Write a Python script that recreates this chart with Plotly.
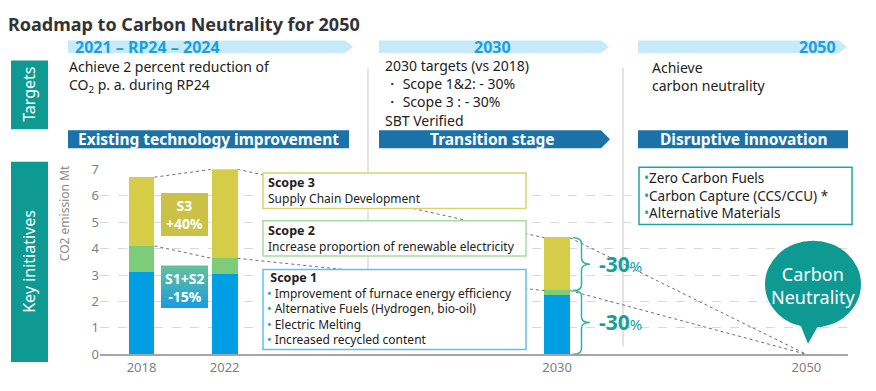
import plotly.graph_objects as go

# ---------------- data ----------------
years = ["2018", "2022", "2030", "2050"]
scope1 = [3.10, 3.03, 2.25, 0.0]
scope2 = [1.00, 0.60, 0.16, 0.0]
scope3 = [2.60, 3.37, 2.00, 0.0]
categories = ["2018", "2022", " ", "  ", "   ", "2030", "    ", "     ", "2050"]
y_ticks = [0, 1, 2, 3, 4, 5, 6, 7]

W, H = 876, 391
FONT = "Noto Sans"
BLUE, GREEN, YELLOW = "#009FE3", "#7DCC7A", "#D5CC48"
TEAL = "#0E9A93"
HDR_BLUE = "#1AA0E2"
DARK_BLUE = "#1A72A8"
LIGHT_BLUE = "#C6EAFA"
BAR_W = 0.31


def X(px):
    return px / W


def Y(py):
    return 1 - py / H


def path(points):
    s = "M " + " L ".join(f"{X(a):.5f},{Y(b):.5f}" for a, b in points)
    return s + " Z"


fig = go.Figure()
for name, vals, col in [("Scope 1", scope1, BLUE), ("Scope 2", scope2, GREEN), ("Scope 3", scope3, YELLOW)]:
    fig.add_trace(go.Bar(x=years, y=vals, name=name, marker=dict(color=col, line=dict(width=0)),
                         width=BAR_W, showlegend=False, hoverinfo="skip"))

shapes = []
ann = []


def txt(x, y, text, size=14, color="#222", anchor="left", yanchor="middle", bold=False, angle=0,
        family=FONT):
    if bold:
        text = f"<b>{text}</b>"
    ann.append(dict(x=X(x), y=Y(y), xref="paper", yref="paper", text=text, showarrow=False,
                    xanchor=anchor, yanchor=yanchor, textangle=angle, align=anchor if anchor != "center" else "center",
                    font=dict(size=size, color=color, family=family)))


# separator lines
for sx in [368, 623]:
    shapes.append(dict(type="line", xref="paper", yref="paper", x0=X(sx), x1=X(sx), y0=Y(62), y1=Y(354),
                       line=dict(color="#C8C8C8", width=1), layer="below"))

# connectors between bars
pos = [categories.index(y) for y in years]
mid = [a + b for a, b in zip(scope1, scope2)]
tot = [a + b + c for a, b, c in zip(scope1, scope2, scope3)]
for i in range(len(years) - 1):
    j = i + 1
    xe = pos[j] if tot[j] == 0 else pos[j] - BAR_W / 2
    for series in (tot, mid):
        shapes.append(dict(type="line", xref="x", yref="y", x0=pos[i] + BAR_W / 2, y0=series[i],
                           x1=xe, y1=series[j], line=dict(color="#6E6E6E", width=1, dash="dot")))

# header chevrons (light)
for x0, x1 in [(68, 353), (379, 609), (638, 847)]:
    shapes.append(dict(type="path", xref="paper", yref="paper", fillcolor=LIGHT_BLUE, line=dict(width=0),
                       path=path([(x0, 33), (x1 - 8, 33), (x1, 39.5), (x1 - 8, 46), (x0, 46)])))
# dark bars
shapes.append(dict(type="path", xref="paper", yref="paper", fillcolor=DARK_BLUE, line=dict(width=0),
                   path=path([(68, 127), (349, 127), (349, 146), (68, 146)])))
shapes.append(dict(type="path", xref="paper", yref="paper", fillcolor=DARK_BLUE, line=dict(width=0),
                   path=path([(379, 127), (601, 127), (610, 136.5), (601, 146), (379, 146)])))
shapes.append(dict(type="path", xref="paper", yref="paper", fillcolor=DARK_BLUE, line=dict(width=0),
                   path=path([(638, 127), (848, 127), (848, 146), (638, 146)])))

# side teal labels
for y0, y1 in [(54, 126), (160, 370)]:
    shapes.append(dict(type="rect", xref="paper", yref="paper", x0=X(11), x1=X(48), y0=Y(y1), y1=Y(y0),
                       fillcolor=TEAL, line=dict(width=0)))

# scope boxes
for y0, y1, col in [(172, 209, "#D9D36C"), (222, 259, "#A9DC9F"), (273, 357, "#5CC3EE")]:
    shapes.append(dict(type="rect", xref="paper", yref="paper", x0=X(263), x1=X(526), y0=Y(y1), y1=Y(y0),
                       fillcolor="white", line=dict(color=col, width=1.5)))
# disruptive box
shapes.append(dict(type="rect", xref="paper", yref="paper", x0=X(639), x1=X(852), y0=Y(226), y1=Y(166),
                   fillcolor="white", line=dict(color="#1BA8A0", width=1.5)))

# S3 box
shapes.append(dict(type="rect", xref="paper", yref="paper", x0=X(161), x1=X(208), y0=Y(238), y1=Y(193),
                   fillcolor="#CBC147", line=dict(width=0)))
# S1+S2 gradient box
n = 12
c0, c1 = (98, 192, 158), (28, 158, 222)
for k in range(n):
    t = k / (n - 1)
    col = "rgb(%d,%d,%d)" % tuple(round(c0[m] + (c1[m] - c0[m]) * t) for m in range(3))
    ya = 269 + (313 - 269) * k / n
    yb = 269 + (313 - 269) * (k + 1) / n
    shapes.append(dict(type="rect", xref="paper", yref="paper", x0=X(161), x1=X(208), y0=Y(yb + 0.3),
                       y1=Y(ya), fillcolor=col, line=dict(width=0)))


# braces at 2030
def brace(y0, y1, xl=X(573), w=X(17), d=0.22):
    xm = xl + w / 2
    xr = xl + w
    ym = (y0 + y1) / 2
    return (f"M {xl},{y1} Q {xm},{y1} {xm},{y1 - d} L {xm},{ym + d} Q {xm},{ym} {xr},{ym} "
            f"Q {xm},{ym} {xm},{ym - d} L {xm},{y0 + d} Q {xm},{y0} {xl},{y0}")


i30 = years.index("2030")
for y0, y1 in [(mid[i30], tot[i30]), (0, mid[i30])]:
    shapes.append(dict(type="path", xref="paper", yref="y", path=brace(y0, y1),
                       line=dict(color="#2BB3A8", width=1.5)))
    ann.append(dict(x=X(597), y=(y0 + y1) / 2, xref="paper", yref="y", showarrow=False,
                    xanchor="left", yanchor="middle",
                    text="<b>-30</b><span style='font-size:15px'>%</span>",
                    font=dict(size=21, color="#14A39A", family=FONT)))

# carbon neutrality bubble
shapes.append(dict(type="path", xref="paper", yref="paper", fillcolor=TEAL, line=dict(width=0),
                   path=path([(798, 325), (822, 325), (808, 351)])))
shapes.append(dict(type="circle", xref="paper", yref="paper", x0=X(765), x1=X(861), y0=Y(334), y1=Y(243),
                   fillcolor=TEAL, line=dict(width=0)))

# ---------------- text ----------------
txt(6, 16, "Roadmap to Carbon Neutrality for 2050", size=18, color="#333333", bold=True)
txt(73, 39.5, "2021 – RP24 – 2024", size=16, color=HDR_BLUE, bold=True)
txt(493, 39.5, "2030", size=16, color=HDR_BLUE, bold=True, anchor="center")
txt(838, 39.5, "2050", size=16, color=HDR_BLUE, bold=True, anchor="right")

txt(208, 136.5, "Existing technology improvement", size=15.5, color="white", bold=True, anchor="center")
txt(493, 136.5, "Transition stage", size=15.5, color="white", bold=True, anchor="center")
txt(743, 136.5, "Disruptive innovation", size=15.5, color="white", bold=True, anchor="center")

txt(29, 90, "Targets", size=16, color="white", anchor="center", angle=-90)
txt(29, 265, "Key initiatives", size=16, color="white", anchor="center", angle=-90)

txt(67, 71, "Achieve 2 percent reduction of<br>CO<sub>2</sub> p. a. during RP24", size=14)
txt(383, 88, "2030 targets (vs 2018)<br>・ Scope 1&2: - 30%<br>・ Scope 3 : - 30%<br>SBT Verified", size=14)
txt(650, 71, "Achieve<br>carbon neutrality", size=14)

txt(64, 214, "CO2 emission Mt", size=12, color="#8A8A8A", anchor="center", angle=-90)

txt(184.5, 215.5, "S3<br>+40%", size=14, color="white", bold=True, anchor="center")
txt(184.5, 292, "S1+S2<br>-15%", size=14, color="white", bold=True, anchor="center")

txt(266, 190.5, "<b style='font-size:12.5px'>Scope 3</b><br>Supply Chain Development", size=12)
txt(266, 240.5, "<b style='font-size:12.5px'>Scope 2</b><br>Increase proportion of renewable electricity", size=12)
bul = "<span style='color:rgb(27,161,226)'>•</span> "
scope1_lines = ["Improvement of furnace energy efficiency", "Alternative Fuels (Hydrogen, bio-oil)",
                "Electric Melting", "Increased recycled content"]
txt(265, 314, "<b style='font-size:12.5px'> Scope 1</b><br>" + "<br>".join(bul + s for s in scope1_lines), size=12)

tb = "<span style='color:rgb(27,168,160)'>•</span>"
disruptive = ["Zero Carbon Fuels", "Carbon Capture (CCS/CCU) *", "Alternative Materials"]
txt(642, 196, "<br>".join(tb + s for s in disruptive), size=13.5)

txt(813, 290, "Carbon<br>Neutrality", size=18, color="white", anchor="center")

fig.update_layout(
    width=W, height=H, margin=dict(l=0, r=0, t=0, b=0),
    paper_bgcolor="white", plot_bgcolor="white", barmode="stack", bargap=0,
    shapes=shapes, annotations=ann, font=dict(family=FONT, color="#222"),
    xaxis=dict(domain=[X(100), X(848)], type="category", categoryorder="array", categoryarray=categories,
               range=[-0.5, len(categories) - 0.5], showgrid=False, zeroline=False,
               tickvals=years, ticktext=years,
               showline=True, linecolor="#A6A6A6", linewidth=1.5, ticks="",
               tickfont=dict(size=13, color="#7F7F7F", family=FONT), fixedrange=True),
    yaxis=dict(domain=[Y(362), Y(168)], range=[0, 7], tickvals=y_ticks, showgrid=True,
               gridcolor="#D9D9D9", griddash="dash", zeroline=False, showline=False, ticks="",
               tickfont=dict(size=13, color="#7F7F7F", family=FONT), fixedrange=True),
)

fig.write_html("out.html", config={"displayModeBar": False},
               post_script="document.body.style.margin='0';document.body.style.overflow='hidden';")
